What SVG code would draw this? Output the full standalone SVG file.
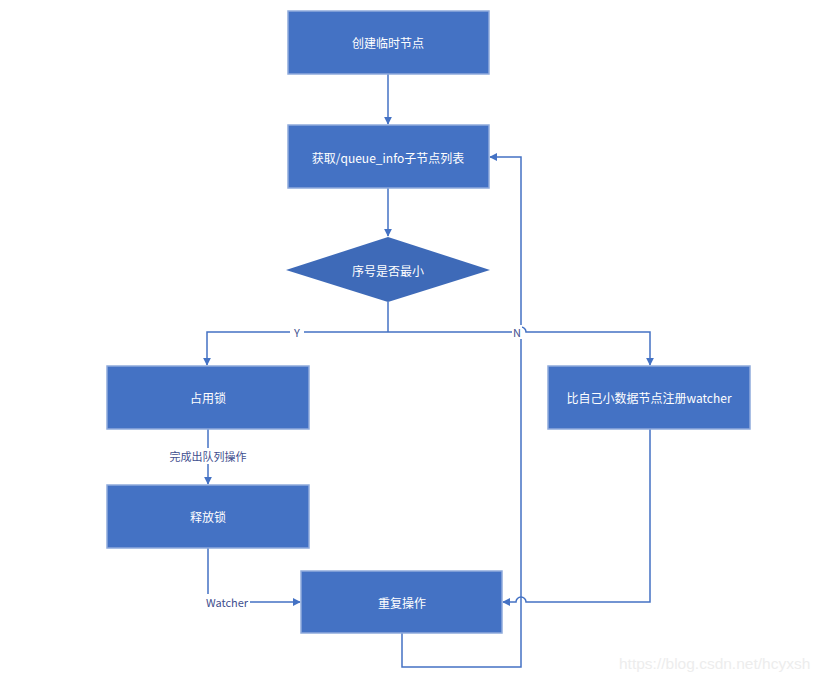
<svg xmlns="http://www.w3.org/2000/svg" width="821" height="682" viewBox="0 0 821 682">
<style>
.box{fill:#4472C4;stroke:#8FAADC;stroke-width:1.5}
.t{fill:#ffffff;font-family:"Noto Sans CJK SC","Noto Sans",sans-serif;font-size:12px;text-anchor:middle;dominant-baseline:central}
.ln{fill:none;stroke:#4472C4;stroke-width:1.5}
.lb{fill:#3F4F8F;font-family:"Noto Sans CJK SC","Noto Sans",sans-serif;font-size:11px;text-anchor:middle;dominant-baseline:central}
.wm{fill:#EDEDED;font-family:"Liberation Sans",Arial,sans-serif;font-size:15.5px}
</style>
<defs>
<marker id="ah" viewBox="0 0 10 10" refX="9" refY="5" markerWidth="8" markerHeight="8" markerUnits="userSpaceOnUse" orient="auto">
<path d="M0,0 L10,5 L0,10 z" fill="#4472C4"/>
</marker>
</defs>
<rect width="821" height="682" fill="#ffffff"/>
<g id="connectors">
<path class="ln" d="M388,74 V124" marker-end="url(#ah)"/>
<path class="ln" d="M388,188 V236" marker-end="url(#ah)"/>
<path class="ln" d="M388,302 V332"/>
<path class="ln" d="M388,332 H207 V365" marker-end="url(#ah)"/>
<path class="ln" d="M388,332 H516 A5,5 0 0 1 526,332 H650 V365" marker-end="url(#ah)"/>
<path class="ln" d="M208,429 V484" marker-end="url(#ah)"/>
<path class="ln" d="M208,548 V602 H300" marker-end="url(#ah)"/>
<path class="ln" d="M650,429 V602 H526 A5,5 0 0 0 516,602 H503" marker-end="url(#ah)"/>
<path class="ln" d="M402,633 V667 H521 V157 H490" marker-end="url(#ah)"/>
<rect x="290" y="325" width="14" height="14" fill="#ffffff"/>
<text class="lb" x="297" y="332">Y</text>
<rect x="512" y="325" width="10" height="14" fill="#ffffff"/>
<text class="lb" x="517" y="332">N</text>
<rect x="162" y="448" width="92" height="16" fill="#ffffff"/>
<text class="lb" x="208" y="456">完成出队列操作</text>
<rect x="204" y="594" width="46" height="16" fill="#ffffff"/>
<text class="lb" x="227" y="602">Watcher</text>
</g>
<g id="n1"><rect class="box" x="288" y="11" width="201" height="63"/><text class="t" x="388" y="42">创建临时节点</text></g>
<g id="n2"><rect class="box" x="288" y="125" width="201" height="63"/><text class="t" x="388" y="157">获取/queue_info子节点列表</text></g>
<g id="n3"><polygon class="box" style="fill:#3E6AB8;stroke:none" points="388,237 490,270 388,302 286,270"/><text class="t" x="388" y="270">序号是否最小</text></g>
<g id="n4"><rect class="box" x="107" y="366" width="202" height="63"/><text class="t" x="208" y="397">占用锁</text></g>
<g id="n5"><rect class="box" x="548" y="366" width="202" height="63"/><text class="t" x="649" y="397">比自己小数据节点注册watcher</text></g>
<g id="n6"><rect class="box" x="107" y="485" width="202" height="63"/><text class="t" x="208" y="516">释放锁</text></g>
<g id="n7"><rect class="box" x="301" y="571" width="201" height="62"/><text class="t" x="402" y="602">重复操作</text></g>
<text class="wm" x="619" y="669">https://blog.csdn.net/hcyxsh</text>
</svg>
